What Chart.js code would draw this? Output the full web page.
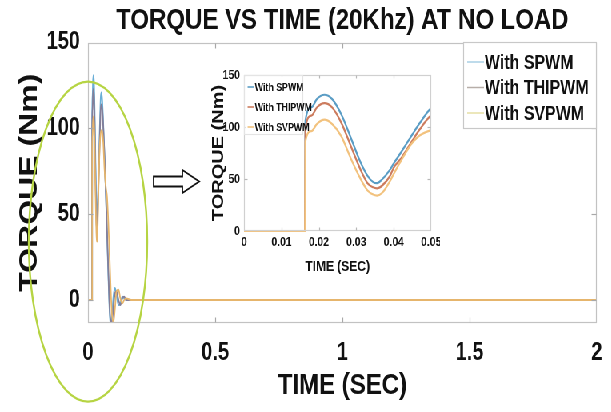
<!DOCTYPE html>
<html><head><meta charset="utf-8">
<script src="https://cdn.jsdelivr.net/npm/chart.js@4.4.1/dist/chart.umd.min.js"></script>
<style>
html,body{margin:0;padding:0;background:#fff;overflow:hidden;}
#outer{position:relative;width:611px;height:412px;overflow:hidden;background:#fff;}
#wrap{position:absolute;left:0;top:0;width:764px;height:412px;transform:scaleX(0.8);transform-origin:0 0;}
#main{position:absolute;left:0;top:0;}
#inset{position:absolute;left:244px;top:62px;}
</style></head><body>
<div id="outer"><div id="wrap"><canvas id="main" width="764" height="412"></canvas><canvas id="inset" width="306" height="218"></canvas></div></div>
<script>
// ---- data ----
const timeSec = [0, 0.0163, 0.0164, 0.018, 0.0195, 0.0215, 0.0235, 0.026, 0.0285, 0.031, 0.033, 0.0345, 0.0355, 0.037, 0.039, 0.04, 0.042, 0.045, 0.047, 0.05, 0.053, 0.056, 0.06, 0.065, 0.07, 0.075, 0.08, 0.085, 0.089, 0.094, 0.1, 0.106, 0.112, 0.12, 0.127, 0.135, 0.142, 0.15, 0.17, 0.5, 1, 1.5, 2];
const torqueSPWM   = [0, 0, 106, 119, 127, 131, 127, 112, 90, 67, 53, 47, 46, 50, 59, 65, 76, 93, 104, 118, 121, 116, 103, 84, 62, 38, 14, -7, -15, -10, 2, 7, 3, -3, -2, 2, 1, 0, 0, 0, 0, 0, 0];
const torqueTHIPWM = [0, 0, 99, 111, 119, 123, 119, 104, 82, 60, 46, 42, 41, 44, 53, 61, 70, 87, 98, 111, 114, 111, 101, 84, 63, 40, 17, -4, -12, -13, -4, 4, 5, 0, -3, 1, 2, 0, 0, 0, 0, 0, 0];
const torqueSVPWM  = [0, 0, 86, 96, 103, 107, 103, 91, 70, 51, 39, 35, 34, 37, 48, 55, 68, 85, 92, 97, 99, 98, 92, 76, 66, 60, 45, 25, 8, -8, -13, -5, 5, 6, 1, -2, 0, 1, 0, 0, 0, 0, 0];
const seriesNames = ['With SPWM', 'With THIPWM', 'With SVPWM'];
const mainXTicks = [0, 0.5, 1, 1.5, 2];
const mainYTicks = [0, 50, 100, 150];
const insetXTicks = [0, 0.01, 0.02, 0.03, 0.04, 0.05];
const insetYTicks = [0, 50, 100, 150];

const SANS = "'Liberation Sans', Arial, sans-serif";
const mainColors = ['#6aaed6', '#857e98', '#e6b56c'];
const legendLineColors = ['#a9cfe4', '#b7aea8', '#e6dfa4'];
const insetColors = ['#5b9dc5', '#cc7c5e', '#f2c27e'];
const seriesData = [torqueSPWM, torqueTHIPWM, torqueSVPWM];

function makeDatasets(colors, width, clip){
  return seriesData.map((vals, k) => ({
    label: seriesNames[k],
    data: timeSec.map((t, i) => ({x: t, y: vals[i]})),
    borderColor: colors[k], backgroundColor: colors[k],
    borderWidth: width, pointRadius: 0, fill: false,
    cubicInterpolationMode: 'monotone', order: 3 - k, clip: clip
  }));
}
function setTicks(arr){ return s => { s.ticks = arr.map(v => ({value: v})); }; }
function fitX(h){ return s => { s.height = h; s.paddingLeft = 0; s.paddingRight = 0; }; }
function fitY(w){ return s => { s.width = w; s.paddingTop = 0; s.paddingBottom = 0; }; }
const plainLabel = v => String(v);
function seg(ctx,x1,y1,x2,y2){ctx.beginPath();ctx.moveTo(x1,y1);ctx.lineTo(x2,y2);ctx.stroke();}

const mainDecor = {
  id: 'mainDecor',
  afterDraw(chart){
    const {ctx, chartArea: a, scales: {x, y}} = chart;
    ctx.save();
    const L=Math.round(a.left)+0.5, T=Math.round(a.top)+0.5, R=Math.round(a.right)-0.5, B=Math.round(a.bottom)-0.5;
    ctx.strokeStyle='#c2c2c2'; ctx.lineWidth=1.2;
    ctx.strokeRect(L, T, R-L, B-T);
    ctx.strokeStyle='#a8a8a8';
    mainXTicks.slice(1, -1).forEach(v => { const p=Math.round(x.getPixelForValue(v))+0.5; seg(ctx,p,B,p,B-5); seg(ctx,p,T,p,T+5); });
    mainYTicks.slice(0, -1).forEach(v => { const p=Math.round(y.getPixelForValue(v))+0.5; seg(ctx,L,p,L+6,p); seg(ctx,R,p,R-6,p); });
    // legend
    const lx=579.5, ly=42.5, lw=R-579.5, lh=86;
    ctx.fillStyle='#fff'; ctx.fillRect(lx, ly, lw, lh);
    ctx.strokeStyle='#c8c8c8'; ctx.strokeRect(lx, ly, lw, lh);
    ctx.font='bold 20px '+SANS; ctx.textBaseline='middle'; ctx.textAlign='left';
    seriesNames.forEach((n, k) => {
      const yy = 62 + k*25.5;
      ctx.strokeStyle=legendLineColors[k]; ctx.lineWidth=1.5; seg(ctx, 584, yy, 605, yy);
      ctx.fillStyle='#111'; ctx.fillText(n, 606, yy+1);
    });
    // ellipse annotation
    ctx.strokeStyle='#b6d443'; ctx.lineWidth=2.4;
    ctx.beginPath(); ctx.ellipse(x.getPixelForValue(0), y.getPixelForValue(34), 74, 160, 0, 0, Math.PI*2); ctx.stroke();
    // hollow arrow
    ctx.strokeStyle='#111'; ctx.lineWidth=1.8; ctx.fillStyle='#fff';
    ctx.beginPath();
    ctx.moveTo(192,176.5); ctx.lineTo(228,176.5); ctx.lineTo(228,170); ctx.lineTo(249,181.5);
    ctx.lineTo(228,193); ctx.lineTo(228,186.5); ctx.lineTo(192,186.5); ctx.closePath();
    ctx.fill(); ctx.stroke();
    ctx.restore();
  }
};

new Chart(document.getElementById('main'), {
  type: 'line',
  data: { datasets: makeDatasets(mainColors, 1.8, true) },
  options: {
    responsive: false, animation: false, devicePixelRatio: 1,
    layout: { padding: { left: 0, right: 18, top: 0, bottom: 0 } },
    plugins: {
      legend: { display: false }, tooltip: { enabled: false },
      title: { display: true, text: 'TORQUE VS TIME (20Khz) AT NO LOAD', color: '#111', fullSize: false,
        font: { family: SANS, size: 30, weight: 'bold', lineHeight: 1.15 }, padding: { top: 3, bottom: 5 } }
    },
    scales: {
      x: { type: 'linear', min: 0, max: 2, afterBuildTicks: setTicks(mainXTicks), afterFit: fitX(89),
        grid: { display: false, drawTicks: false }, border: { display: false },
        ticks: { color: '#111', font: { family: SANS, size: 25, weight: 'bold' }, padding: 15, maxRotation: 0, autoSkip: false, callback: plainLabel },
        title: { display: true, text: 'TIME (SEC)', color: '#111', font: { family: SANS, size: 30, weight: 'bold' }, padding: { top: 0, bottom: 8 } } },
      y: { type: 'linear', min: -13.4, max: 150, afterBuildTicks: setTicks(mainYTicks), afterFit: fitY(110),
        grid: { display: false, drawTicks: false }, border: { display: false },
        ticks: { color: '#111', font: { family: SANS, size: 25, weight: 'bold' }, padding: 10, callback: plainLabel },
        title: { display: true, text: 'TORQUE (Nm)', color: '#111', font: { family: SANS, size: 32, weight: 'bold' }, padding: { top: 18, bottom: 0 } } }
    }
  },
  plugins: [mainDecor]
});

const insetDecor = {
  id: 'insetDecor',
  afterDraw(chart){
    const {ctx, chartArea: a, scales: {x, y}} = chart;
    ctx.save();
    const L=Math.round(a.left)+0.5, T=Math.round(a.top)+0.5, R=Math.round(a.right)-0.5, B=Math.round(a.bottom)-0.5;
    ctx.strokeStyle='#d0d0d0'; ctx.lineWidth=1.2; ctx.strokeRect(L, T, R-L, B-T);
    ctx.strokeStyle='#b8b8b8';
    insetXTicks.slice(1, -1).forEach(v => { const p=Math.round(x.getPixelForValue(v))+0.5; seg(ctx,p,B,p,B-3); seg(ctx,p,T,p,T+3); });
    insetYTicks.slice(1, -1).forEach(v => { const p=Math.round(y.getPixelForValue(v))+0.5; seg(ctx,L,p,L+4,p); seg(ctx,R,p,R-4,p); });
    // legend
    ctx.fillStyle='#fff'; ctx.fillRect(L+1, T+1, 72, 58);
    ctx.strokeStyle='#e4e4e4'; ctx.strokeRect(L, T, 73, 59);
    ctx.font='bold 11px '+SANS; ctx.textBaseline='middle'; ctx.textAlign='left';
    seriesNames.forEach((n, k) => {
      const yy = T + 11.5 + k*20;
      ctx.strokeStyle=insetColors[k]; ctx.lineWidth=1.6; seg(ctx, L+4, yy, L+12, yy);
      ctx.fillStyle='#111'; ctx.fillText(n, L+13, yy+0.5);
    });
    ctx.restore();
  }
};

new Chart(document.getElementById('inset'), {
  type: 'line',
  data: { datasets: makeDatasets(insetColors, 2.2, {left: 1, top: 1, right: 0, bottom: 3}) },
  options: {
    responsive: false, animation: false, devicePixelRatio: 1,
    layout: { padding: { left: 0, right: 11, top: 13, bottom: 0 } },
    plugins: { legend: { display: false }, tooltip: { enabled: false }, title: { display: false } },
    scales: {
      x: { type: 'linear', min: 0, max: 0.05, afterBuildTicks: setTicks(insetXTicks), afterFit: fitX(49),
        grid: { display: false, drawTicks: false }, border: { display: false },
        ticks: { color: '#111', font: { family: SANS, size: 13, weight: 'bold' }, padding: 4, maxRotation: 0, autoSkip: false, callback: plainLabel },
        title: { display: true, text: 'TIME (SEC)', color: '#111', font: { family: SANS, size: 15, weight: 'bold' }, padding: { top: 0, bottom: 4 } } },
      y: { type: 'linear', min: 0, max: 150, afterBuildTicks: setTicks(insetYTicks), afterFit: fitY(61),
        grid: { display: false, drawTicks: false }, border: { display: false },
        ticks: { color: '#111', font: { family: SANS, size: 13, weight: 'bold' }, padding: 5, callback: plainLabel },
        title: { display: true, text: 'TORQUE (Nm)', color: '#111', font: { family: SANS, size: 20, weight: 'bold' }, padding: { top: 17, bottom: 0 } } }
    }
  },
  plugins: [insetDecor]
});
</script>
</body></html>
